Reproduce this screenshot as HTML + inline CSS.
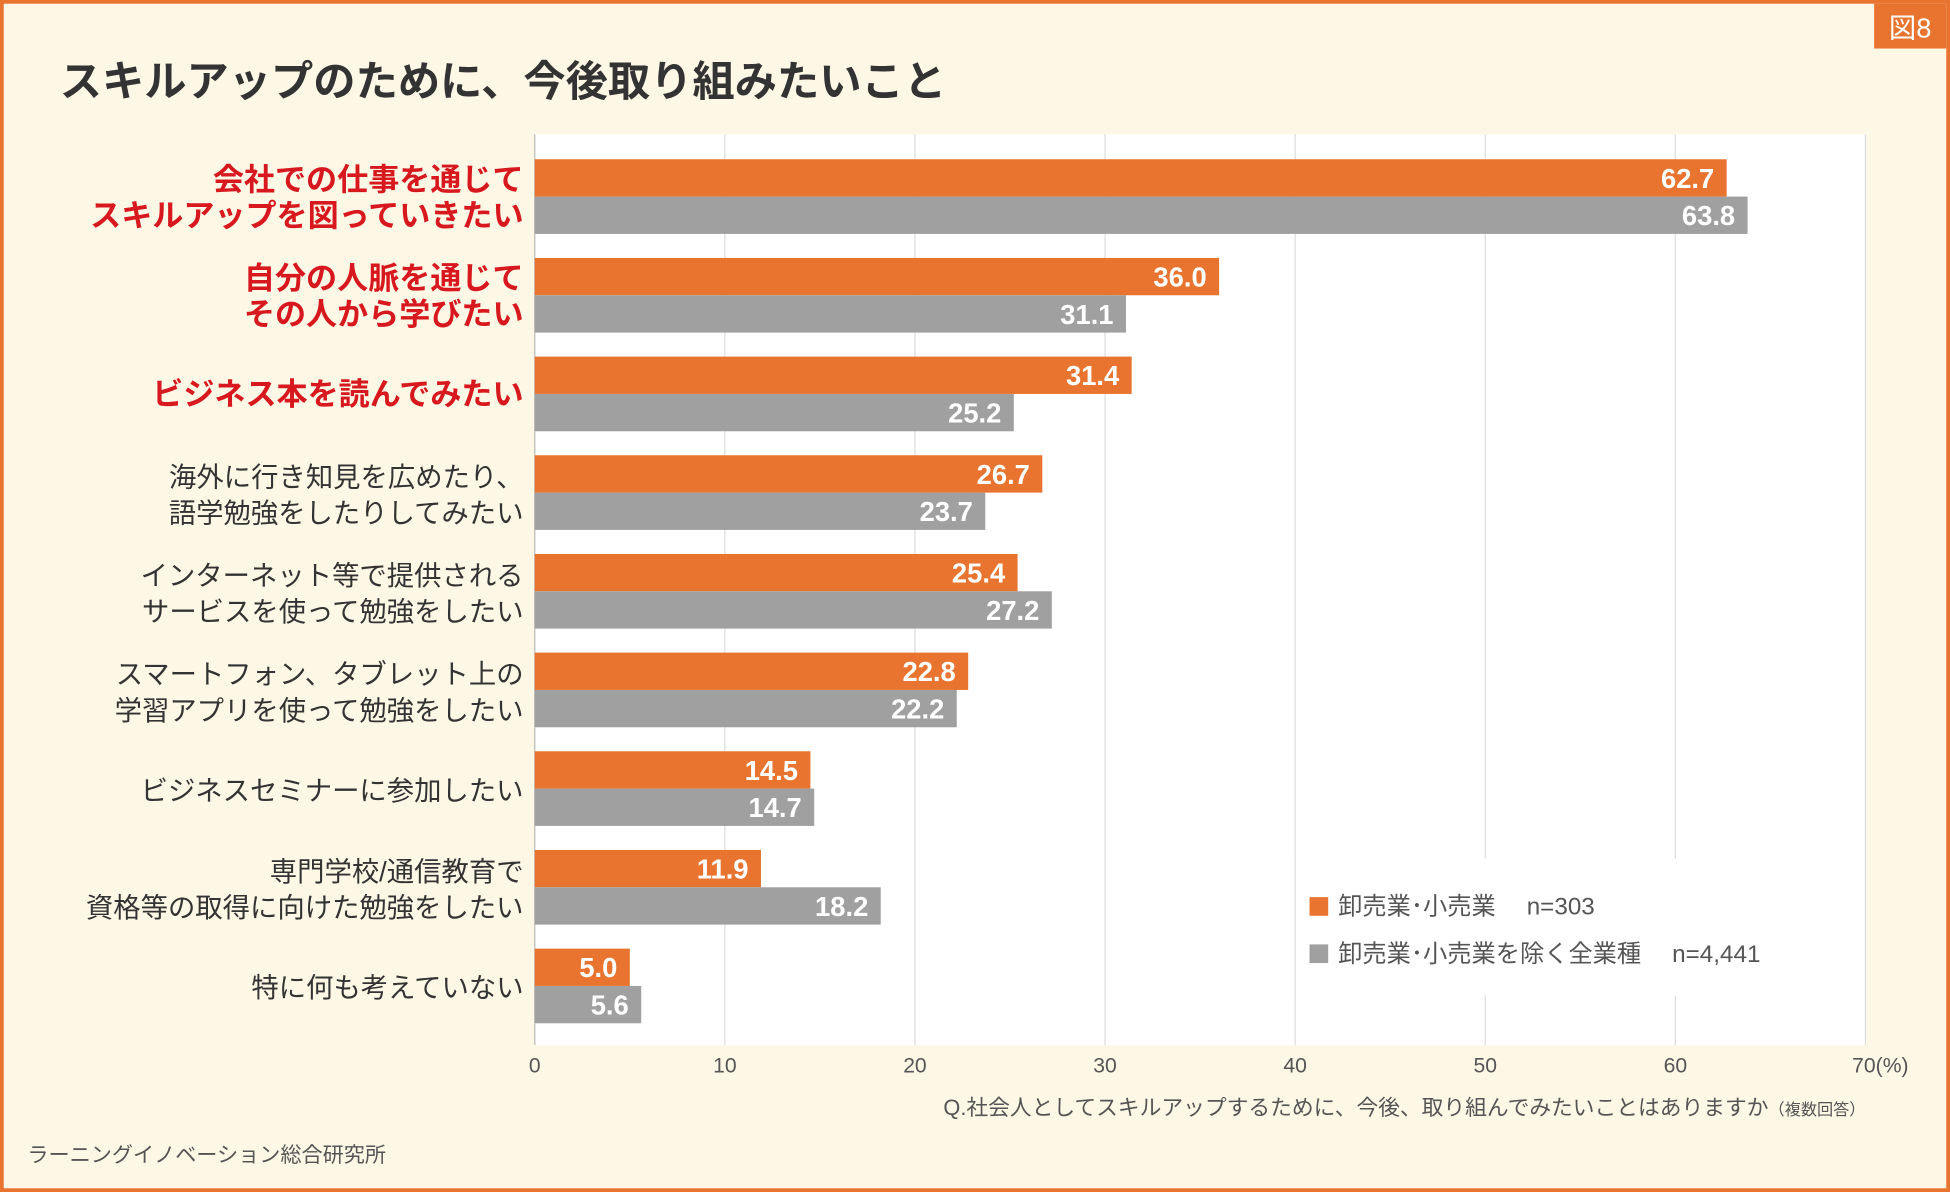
<!DOCTYPE html>
<html><head><meta charset="utf-8"><style>
html,body{margin:0;padding:0;background:#fdf7e6}
svg{display:block}
text{font-family:"Liberation Sans","Noto Sans CJK JP",sans-serif}
</style></head><body>
<svg id="chart" width="1950" height="1192" viewBox="0 0 1568 958" preserveAspectRatio="none" xmlns="http://www.w3.org/2000/svg">
<rect x="1.5" y="1.5" width="1565" height="955" fill="#fdf7e6" stroke="#e8742f" stroke-width="3"/>
<rect x="1507" y="3" width="58" height="36" fill="#e8742f"/>
<text x="1536" y="30" fill="#fff" font-size="22" text-anchor="middle">図8</text>
<text x="48" y="77" font-size="34" font-weight="bold" fill="#333">スキルアップのために、今後取り組みたいこと</text>
<rect x="430" y="108" width="1070" height="732" fill="#fff"/>
<g id="grid"></g>
<g id="bars"></g>
<g id="labels"></g>
<rect x="1042" y="690" width="400" height="110" fill="#fff"/>
<rect x="1053" y="721" width="15" height="15" fill="#e8742f"/>
<text x="1076" y="735" font-size="19.5" fill="#555">卸売業･小売業　 n=303</text>
<rect x="1053" y="759" width="15" height="15" fill="#a0a0a0"/>
<text x="1076" y="773" font-size="19.5" fill="#555">卸売業･小売業を除く全業種　 n=4,441</text>
<text x="1500" y="896" font-size="17.5" fill="#555" text-anchor="end">Q.社会人としてスキルアップするために、今後、取り組んでみたいことはありますか<tspan font-size="13">（複数回答）</tspan></text>
<text x="22" y="934" font-size="17" fill="#555">ラーニングイノベーション総合研究所</text>
</svg>
<script>
const categories=[["会社での仕事を通じて","スキルアップを図っていきたい"],["自分の人脈を通じて","その人から学びたい"],["ビジネス本を読んでみたい"],["海外に行き知見を広めたり、","語学勉強をしたりしてみたい"],["インターネット等で提供される","サービスを使って勉強をしたい"],["スマートフォン、タブレット上の","学習アプリを使って勉強をしたい"],["ビジネスセミナーに参加したい"],["専門学校/通信教育で","資格等の取得に向けた勉強をしたい"],["特に何も考えていない"]];
const highlighted=[true,true,true,false,false,false,false,false,false];
const wholesale=[62.7,36.0,31.4,26.7,25.4,22.8,14.5,11.9,5.0];
const allIndustries=[63.8,31.1,25.2,23.7,27.2,22.2,14.7,18.2,5.6];
const ticks=[0,10,20,30,40,50,60,70];
const NS="http://www.w3.org/2000/svg";
const x0=430,x1=1500,xMax=70,yTop=128,pitch=79.3,bh=30;
const xs=v=>x0+(x1-x0)*v/xMax;
function mk(tag,attrs,parent,txt){const e=document.createElementNS(NS,tag);for(const k in attrs)e.setAttribute(k,attrs[k]);if(txt!==undefined)e.textContent=txt;document.getElementById(parent).appendChild(e);return e;}
ticks.forEach((t,i)=>{
  const l=mk('line',{x1:xs(t),x2:xs(t),y1:108,y2:840,stroke:t===0?'#bbb':'#ddd','stroke-width':1},'grid');
  
  
  const tx=mk('text',{x:xs(t),y:862,'font-size':17,fill:'#555','text-anchor':'middle'},'grid',i===ticks.length-1?t+'(%)':String(t));
  if(i===ticks.length-1)tx.setAttribute('x',xs(t)+12);
  
  
});
categories.forEach((c,i)=>{
  const y=yTop+i*pitch;
  [[wholesale[i],'#e8742f',y,'bar-wholesale'],[allIndustries[i],'#a0a0a0',y+bh,'bar-all']].forEach(([v,col,yy,nm])=>{
    const r=mk('rect',{x:x0,y:yy,width:xs(v)-x0,height:bh,fill:col},'bars');
    
    
    const t=mk('text',{x:xs(v)-10,y:yy+23,'font-size':22,'font-weight':'bold',fill:'#fff','text-anchor':'end'},'bars',v.toFixed(1));
    
    
  });
  const col=highlighted[i]?'#d7191f':'#333';
  const fw=highlighted[i]?'bold':'normal';
  const fs=highlighted[i]?25:22;
  const cy=y+bh;
  c.forEach((line,j)=>{
    const yy=c.length===1?cy+9:cy-5+j*29;
    const t=mk('text',{x:421,y:yy,'font-size':fs,'font-weight':fw,fill:col,'text-anchor':'end'},'labels',line);
    
    
  });
});
</script>
</body></html>
